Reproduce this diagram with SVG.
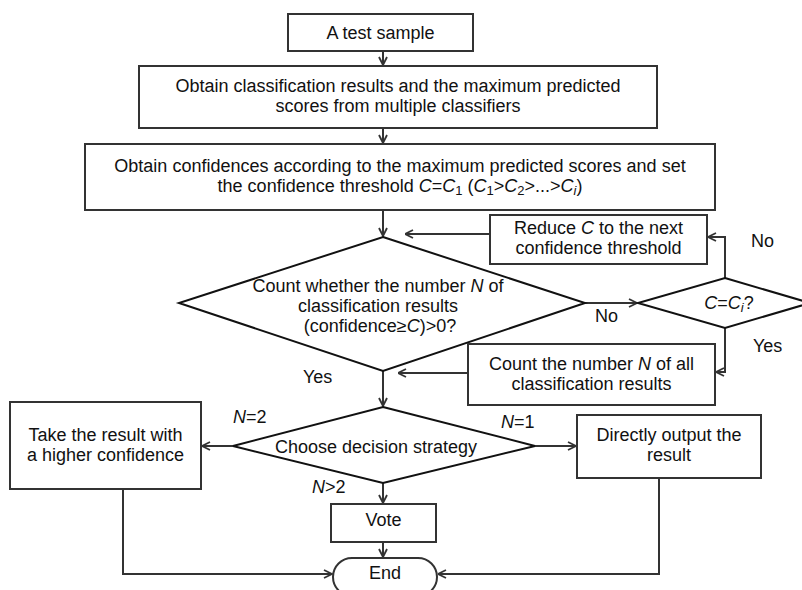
<svg xmlns="http://www.w3.org/2000/svg" width="802" height="590" viewBox="0 0 802 590">
<defs>
<style>
.box{fill:#fff;stroke:#333;stroke-width:2}
.dia{fill:#fff;stroke:#111;stroke-width:2}
.t{font-family:"Liberation Sans",Arial,sans-serif;font-size:18px;fill:#111;text-anchor:middle}
.l{font-family:"Liberation Sans",Arial,sans-serif;font-size:18px;fill:#111}
.i{font-style:italic}
.c{fill:none;stroke:#333;stroke-width:2}
</style>
<marker id="ah" markerUnits="userSpaceOnUse" viewBox="0 0 10 10" refX="9.5" refY="5" markerWidth="10" markerHeight="10" orient="auto">
<path d="M1.5,1 L9.5,5 L1.5,9" fill="none" stroke="#333" stroke-width="1.8"/>
</marker>
</defs>
<rect width="802" height="590" fill="#fff"/>

<g id="connectors">
<path class="c" d="M383,51 V65" marker-end="url(#ah)"/>
<path class="c" d="M383,128 V143" marker-end="url(#ah)"/>
<path class="c" d="M383,210 V236" marker-end="url(#ah)"/>
<path class="c" d="M585,303 H637" marker-end="url(#ah)"/>
<path class="c" d="M725,278 V237 H708" marker-end="url(#ah)"/>
<path class="c" d="M490,234 H405" marker-end="url(#ah)"/>
<path class="c" d="M725,328 V372 H716" marker-end="url(#ah)"/>
<path class="c" d="M468,373 H398" marker-end="url(#ah)"/>
<path class="c" d="M383,371 V406" marker-end="url(#ah)"/>
<path class="c" d="M233,446 H202" marker-end="url(#ah)"/>
<path class="c" d="M535,446 H576" marker-end="url(#ah)"/>
<path class="c" d="M383,483 V503" marker-end="url(#ah)"/>
<path class="c" d="M383,542 V557" marker-end="url(#ah)"/>
<path class="c" d="M123,489 V574 H332" marker-end="url(#ah)"/>
<path class="c" d="M659,478 V574 H438" marker-end="url(#ah)"/>
<text class="l" x="595" y="322">No</text>
<text class="l" x="751" y="247">No</text>
<text class="l" x="753" y="352">Yes</text>
<text class="l" x="303" y="383">Yes</text>
<text class="l" x="233" y="423"><tspan class="i">N</tspan>=2</text>
<text class="l" x="501" y="428"><tspan class="i">N</tspan>=1</text>
<text class="l" x="312" y="493"><tspan class="i">N</tspan>&gt;2</text>
</g>

<g id="start">
<rect class="box" x="288" y="14" width="185" height="37"/>
<text class="t" x="380.5" y="38.5">A test sample</text>
</g>

<g id="obtain-results">
<rect class="box" x="139" y="66" width="518" height="62"/>
<text class="t" x="398" y="92">Obtain classification results and the maximum predicted</text>
<text class="t" x="398" y="112">scores from multiple classifiers</text>
</g>

<g id="obtain-confidences">
<rect class="box" x="85" y="144" width="630" height="66"/>
<text class="t" x="400" y="171.5">Obtain confidences according to the maximum predicted scores and set</text>
<text class="t" x="400" y="191.5">the confidence threshold <tspan class="i">C</tspan>=<tspan class="i">C</tspan><tspan font-size="13" dy="3">1</tspan><tspan dy="-3"> (</tspan><tspan class="i">C</tspan><tspan font-size="13" dy="3">1</tspan><tspan dy="-3">&gt;</tspan><tspan class="i">C</tspan><tspan font-size="13" dy="3">2</tspan><tspan dy="-3">&gt;...&gt;</tspan><tspan class="i">C</tspan><tspan class="i" font-size="13" dy="3">i</tspan><tspan dy="-3">)</tspan></text>
</g>

<g id="reduce">
<rect class="box" x="490" y="215" width="217" height="49"/>
<text class="t" x="598.5" y="233.5">Reduce <tspan class="i">C</tspan> to the next</text>
<text class="t" x="598.5" y="253.5">confidence threshold</text>
</g>

<g id="check-count">
<polygon class="dia" points="383,237 585,303 383,371 179,303"/>
<text class="t" x="378" y="292">Count whether the number <tspan class="i">N</tspan> of</text>
<text class="t" x="378" y="312">classification results</text>
<text class="t" x="380" y="332">(confidence≥<tspan class="i">C</tspan>)&gt;0?</text>
</g>

<g id="check-ci">
<polygon class="dia" points="725,278 810,303 725,328 638,303"/>
<text class="t" x="729" y="309"><tspan class="i">C</tspan>=<tspan class="i">C</tspan><tspan class="i" font-size="13" dy="3">i</tspan><tspan dy="-3">?</tspan></text>
</g>

<g id="count-all">
<rect class="box" x="468" y="344" width="247" height="61"/>
<text class="t" x="591.5" y="369.5">Count the number <tspan class="i">N</tspan> of all</text>
<text class="t" x="591.5" y="389.5">classification results</text>
</g>

<g id="strategy">
<polygon class="dia" points="383,407 535,446 383,483 233,446"/>
<text class="t" x="376" y="452.5">Choose decision strategy</text>
</g>

<g id="higher-confidence">
<rect class="box" x="10" y="402" width="191" height="87"/>
<text class="t" x="105.5" y="441">Take the result with</text>
<text class="t" x="105.5" y="461">a higher confidence</text>
</g>

<g id="direct-output">
<rect class="box" x="577" y="415" width="184" height="63"/>
<text class="t" x="669" y="441">Directly output the</text>
<text class="t" x="669" y="461">result</text>
</g>

<g id="vote">
<rect class="box" x="331" y="504" width="105" height="38"/>
<text class="t" x="383.5" y="526">Vote</text>
</g>

<g id="end">
<rect class="box" x="333" y="558" width="104" height="38" rx="19"/>
<text class="t" x="385" y="578.5">End</text>
</g>
</svg>
